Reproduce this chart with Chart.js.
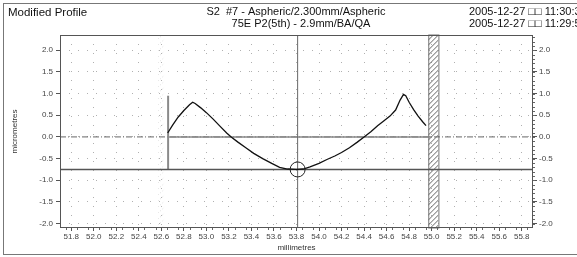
<!DOCTYPE html>
<html><head><meta charset="utf-8">
<script src="https://cdn.jsdelivr.net/npm/chart.js@4.4.0/dist/chart.umd.min.js"></script>
<style>html,body{margin:0;padding:0;background:#fff;}canvas{display:block;}</style>
</head><body>
<canvas id="c" width="577" height="257"></canvas>
<script>
// ---- data ----
const xTicks = [51.8,52.0,52.2,52.4,52.6,52.8,53.0,53.2,53.4,53.6,53.8,54.0,54.2,54.4,54.6,54.8,55.0,55.2,55.4,55.6,55.8];
const yTicks = [-2.0,-1.5,-1.0,-0.5,0.0,0.5,1.0,1.5,2.0];
const profileX = [52.656,52.70,52.75,52.80,52.85,52.878,52.90,52.95,53.00,53.06,53.12,53.18,53.22,53.28,53.35,53.42,53.50,53.58,53.65,53.72,53.80,53.86,53.92,54.00,54.07,54.14,54.20,54.27,54.34,54.40,54.46,54.52,54.58,54.63,54.68,54.72,54.75,54.77,54.80,54.84,54.88,54.92,54.95];
const profileY = [0.09,0.27,0.46,0.61,0.74,0.80,0.77,0.67,0.56,0.41,0.25,0.09,0.00,-0.12,-0.25,-0.38,-0.50,-0.61,-0.70,-0.74,-0.75,-0.74,-0.69,-0.61,-0.52,-0.44,-0.36,-0.25,-0.12,0.00,0.12,0.26,0.38,0.48,0.62,0.85,0.98,0.95,0.80,0.63,0.48,0.35,0.26];
const refLevel = -0.75;       // horizontal reference line
const minPointX = 53.81;      // vertical line through minimum / circle
const startX = 52.66;         // start marker line
const startMarkerTop = 0.95;
const zeroSegEnd = 55.0;
const xRange = [51.7, 55.9];
const yRange = [-2.1, 2.35];
const hatchBand = [54.97, 55.06];
const faintBand = [52.57, 52.63];
const headerLeft = "Modified Profile";
const headerCenter = ["S2  #7 - Aspheric/2.300mm/Aspheric", "75E P2(5th) - 2.9mm/BA/QA"];
const headerRight = ["2005-12-27 \u25A1\u25A1 11:30:31", "2005-12-27 \u25A1\u25A1 11:29:51"];

const FONT = "'Liberation Sans', Arial, sans-serif";

const decor = {
  id: 'decor',
  beforeDatasetsDraw(chart) {
    const {ctx, chartArea: a, scales: {x, y}} = chart;
    ctx.save();
    // faint band
    ctx.beginPath(); ctx.rect(x.getPixelForValue(faintBand[0]), a.top, x.getPixelForValue(faintBand[1]) - x.getPixelForValue(faintBand[0]), a.bottom - a.top); ctx.clip();
    ctx.strokeStyle = '#d4d4d4'; ctx.lineWidth = 0.8; ctx.setLineDash([1,2]);
    for (let yy = a.top - 20; yy < a.bottom + 20; yy += 6) {
      ctx.beginPath(); ctx.moveTo(x.getPixelForValue(faintBand[0]), yy + 6); ctx.lineTo(x.getPixelForValue(faintBand[1]), yy); ctx.stroke();
    }
    ctx.restore();
    // hatch band
    ctx.save();
    const hx0 = x.getPixelForValue(hatchBand[0]), hx1 = x.getPixelForValue(hatchBand[1]);
    ctx.strokeStyle = '#777'; ctx.lineWidth = 1;
    ctx.strokeRect(hx0 + 0.5, a.top, hx1 - hx0, a.bottom - a.top);
    ctx.beginPath(); ctx.rect(hx0, a.top, hx1 - hx0, a.bottom - a.top); ctx.clip();
    ctx.strokeStyle = '#555'; ctx.lineWidth = 0.9;
    for (let yy = a.top - 20; yy < a.bottom + 20; yy += 5) {
      ctx.beginPath(); ctx.moveTo(hx0, yy + (hx1 - hx0)); ctx.lineTo(hx1, yy); ctx.stroke();
    }
    ctx.restore();
  },
  afterDraw(chart) {
    const {ctx, chartArea: a, scales: {x, y}} = chart;
    ctx.save();
    // frame
    ctx.strokeStyle = '#555'; ctx.lineWidth = 1;
    ctx.strokeRect(a.left + 0.5, a.top + 0.5, a.right - a.left - 1, a.bottom - a.top - 1);
    // minor ticks bottom & right
    ctx.strokeStyle = '#666'; ctx.lineWidth = 1;
    for (let v = 51.75; v < 55.9; v += 0.1) {
      const px = Math.round(x.getPixelForValue(v)) + 0.5;
      ctx.beginPath(); ctx.moveTo(px, a.bottom); ctx.lineTo(px, a.bottom + 2); ctx.stroke();
    }
    for (let v = -2.0; v <= 2.31; v += 0.1) {
      const py = Math.round(y.getPixelForValue(v)) + 0.5;
      ctx.beginPath(); ctx.moveTo(a.right, py); ctx.lineTo(a.right + 2, py); ctx.stroke();
    }
    // outer border
    ctx.strokeStyle = '#777';
    ctx.strokeRect(3.5, 3.5, 590, 251);
    // header text
    ctx.fillStyle = '#111'; ctx.textBaseline = 'middle';
    ctx.font = '11.5px ' + FONT; ctx.textAlign = 'left';
    ctx.fillText(headerLeft, 8, 13);
    ctx.font = '11px ' + FONT; ctx.textAlign = 'center';
    ctx.fillText(headerCenter[0], 296, 12);
    ctx.fillText(headerCenter[1], 301, 24);
    ctx.textAlign = 'left';
    ctx.fillText(headerRight[0], 469, 12);
    ctx.fillText(headerRight[1], 469, 24);
    ctx.restore();
  }
};

const pts = (xs, ys) => xs.map((v, i) => ({x: v, y: ys[i]}));

new Chart(document.getElementById('c'), {
  type: 'scatter',
  data: {
    datasets: [
      { data: pts(profileX, profileY), showLine: true, borderColor: '#111', borderWidth: 1.3, pointRadius: 0, order: 1 },
      { data: [{x: startX, y: refLevel}, {x: startX, y: startMarkerTop}], showLine: true, borderColor: '#8a8a8a', borderWidth: 2, pointRadius: 0, order: 3 },
      { data: [{x: startX, y: 0}, {x: zeroSegEnd, y: 0}], showLine: true, borderColor: '#888', borderWidth: 1.5, pointRadius: 0, order: 3 },
      { data: [{x: xRange[0], y: 0}, {x: xRange[1], y: 0}], showLine: true, borderColor: '#666', borderWidth: 1, borderDash: [6,2,1,2], pointRadius: 0, order: 4 },
      { data: [{x: xRange[0], y: refLevel}, {x: xRange[1], y: refLevel}], showLine: true, borderColor: '#555', borderWidth: 1.5, pointRadius: 0, order: 2 },
      { data: [{x: minPointX, y: yRange[0]}, {x: minPointX, y: yRange[1]}], showLine: true, borderColor: '#666', borderWidth: 1, pointRadius: 0, order: 2 },
      { data: [{x: minPointX, y: refLevel}], showLine: false, pointStyle: 'circle', pointRadius: 7.5, borderColor: '#222', borderWidth: 1, backgroundColor: 'rgba(0,0,0,0)', order: 0 }
    ]
  },
  options: {
    responsive: false, animation: false, devicePixelRatio: 1,
    layout: { padding: { top: 35, left: 8, right: 0, bottom: 0 } },
    plugins: { legend: { display: false }, tooltip: { enabled: false } },
    scales: {
      x: {
        type: 'linear', min: xRange[0], max: xRange[1],
        afterBuildTicks: s => { s.ticks = xTicks.map(v => ({value: v})); },
        afterFit: s => { s.height = 29; },
        ticks: { autoSkip: false, maxRotation: 0, padding: 1, color: '#444', font: { family: FONT, size: 8 }, callback: v => Number(v).toFixed(1) },
        grid: { color: '#b0b0b0', tickColor: '#555', tickLength: 3, lineWidth: 1 },
        border: { display: false, dash: [1,8] },
        title: { display: true, text: 'millimetres', color: '#333', font: { family: FONT, size: 8 }, padding: { top: 0, bottom: 4 } }
      },
      y: {
        type: 'linear', position: 'left', min: yRange[0], max: yRange[1],
        afterBuildTicks: s => { s.ticks = yTicks.map(v => ({value: v})); },
        afterFit: s => { s.width = 52; },
        ticks: { padding: 3, color: '#444', font: { family: FONT, size: 8 }, callback: v => Number(v).toFixed(1) },
        grid: { color: '#b0b0b0', tickColor: '#555', tickLength: 4, lineWidth: 1 },
        border: { display: false, dash: [1,8] },
        title: { display: true, text: 'micrometres', color: '#333', font: { family: FONT, size: 8 }, padding: { top: 2, bottom: 0 } }
      },
      y2: {
        type: 'linear', position: 'right', min: yRange[0], max: yRange[1],
        afterBuildTicks: s => { s.ticks = yTicks.map(v => ({value: v})); },
        afterFit: s => { s.width = 44; },
        ticks: { padding: 2, color: '#444', font: { family: FONT, size: 8 }, callback: v => Number(v).toFixed(1) },
        grid: { drawOnChartArea: false, tickColor: '#555', tickLength: 4 },
        border: { display: false }
      }
    }
  },
  plugins: [decor]
});
</script>
</body></html>
